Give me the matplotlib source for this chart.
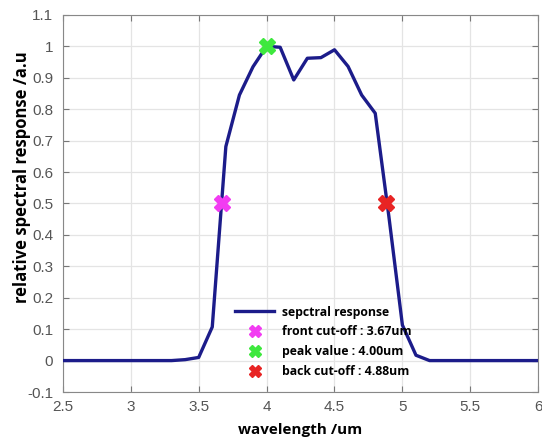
import matplotlib
matplotlib.use('Agg')
import matplotlib.pyplot as plt

# spectral response curve
wavelength = [2.5, 3.0, 3.3, 3.4, 3.5, 3.6, 3.7, 3.8, 3.9, 4.0, 4.1, 4.2, 4.3, 4.4, 4.5,
              4.6, 4.7, 4.8, 4.9, 5.0, 5.1, 5.2, 5.5, 6.0]
response = [0.0, 0.0, 0.0, 0.003, 0.01, 0.107, 0.681, 0.845, 0.935, 1.0, 0.997, 0.893, 0.962,
            0.964, 0.989, 0.936, 0.845, 0.787, 0.46, 0.113, 0.017, 0.0, 0.0, 0.0]

marker_x = [3.67, 4.00, 4.88]
marker_y = [0.5, 1.0, 0.5]
marker_labels = ['front cut-off : 3.67um', 'peak value : 4.00um', 'back cut-off : 4.88um']
marker_colors = ['#f23cf2', '#3ee83e', '#e82424']

plt.rcParams['font.family'] = ['Liberation Sans', 'DejaVu Sans']

fig = plt.figure(figsize=(5.42, 4.38), dpi=100)
ax = fig.add_axes([0.116, 0.105, 0.877, 0.861])

ax.plot(wavelength, response, color='#1c1c8a', lw=2.4, label='sepctral response', zorder=3)
for x, y, lab, c in zip(marker_x, marker_y, marker_labels, marker_colors):
    ax.plot([x], [y], marker='X', ms=11, color=c, mec=c, ls='none', label=lab, zorder=4)

ax.set_xlim(2.5, 6)
ax.set_ylim(-0.1, 1.1)
ax.set_xticks([2.5, 3, 3.5, 4, 4.5, 5, 5.5, 6])
ax.set_xticklabels(['2.5', '3', '3.5', '4', '4.5', '5', '5.5', '6'])
yt = [-0.1, 0, 0.1, 0.2, 0.3, 0.4, 0.5, 0.6, 0.7, 0.8, 0.9, 1, 1.1]
ax.set_yticks(yt)
ax.set_yticklabels(['-0.1', '0', '0.1', '0.2', '0.3', '0.4', '0.5', '0.6', '0.7', '0.8',
                    '0.9', '1', '1.1'])
ax.grid(True, color='#e4e4e4', lw=0.9)
ax.set_axisbelow(True)
ax.tick_params(direction='in', top=True, right=True, length=4, colors='#777777',
               labelcolor='#555555', labelsize=11)
ax.tick_params(axis='x', pad=6)
ax.tick_params(axis='y', pad=7)
for s in ax.spines.values():
    s.set_color('#888888')

ax.set_xlabel('wavelength /um', family=['Open Sans', 'DejaVu Sans'], size=11,
              weight='bold', labelpad=6)
ax.set_ylabel('relative spectral response /a.u', family=['Open Sans', 'DejaVu Sans'],
              size=12, weight='bold')
ax.yaxis.set_label_coords(-0.067, 0.57)

leg = ax.legend(loc='upper left', bbox_to_anchor=(0.35, 0.245), frameon=False,
                prop={'family': ['Open Sans', 'DejaVu Sans'], 'size': 8.8, 'weight': 'bold'},
                handlelength=3.2, labelspacing=0.55, handletextpad=0.6, borderpad=0)
for h in leg.legend_handles[1:]:
    h.set_markersize(9)

fig.savefig('out.png', dpi=100)
